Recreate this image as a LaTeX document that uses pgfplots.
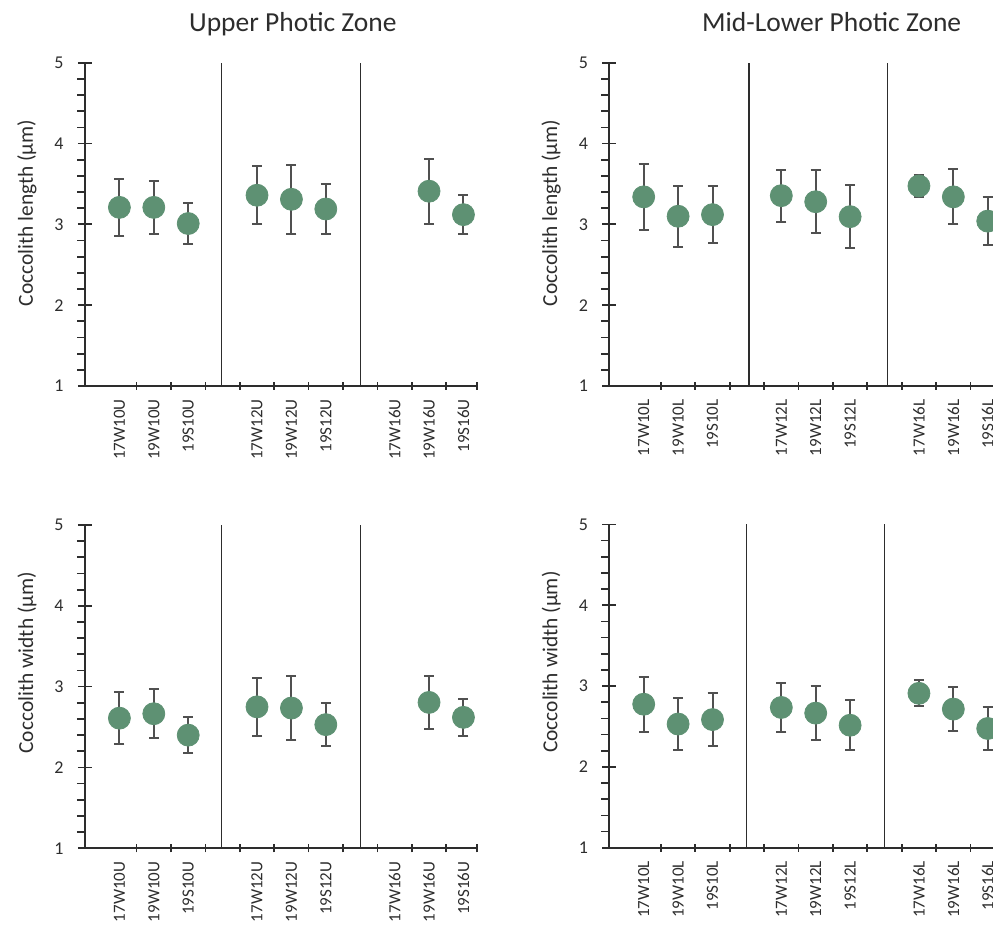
\documentclass[border=0pt]{standalone}
\usepackage{fontspec}
\setmainfont{Carlito}
\usepackage{pgfplots}
\usepackage{pgfplotstable}
\pgfplotsset{compat=1.18}
\definecolor{mk}{RGB}{94,145,115}
\definecolor{eb}{RGB}{80,80,80}
\definecolor{ax}{RGB}{45,45,45}

\pgfplotstableread{
x y e
1 3.21 0.355
2 3.21 0.33
3 3.01 0.25
5 3.36 0.36
6 3.31 0.425
7 3.19 0.31
10 3.41 0.40
11 3.12 0.237
}\UL
\pgfplotstableread{
x y e
1 2.61 0.32
2 2.665 0.305
3 2.40 0.225
5 2.75 0.357
6 2.735 0.394
7 2.53 0.266
10 2.805 0.328
11 2.62 0.225
}\UW
\pgfplotstableread{
x y e
1 3.34 0.41
2 3.10 0.377
3 3.12 0.35
5 3.355 0.32
6 3.28 0.39
7 3.095 0.39
9 3.475 0.136
10 3.34 0.34
11 3.04 0.30
}\LL
\pgfplotstableread{
x y e
1 2.775 0.34
2 2.53 0.32
3 2.585 0.33
5 2.735 0.305
6 2.665 0.332
7 2.515 0.31
9 2.91 0.16
10 2.715 0.27
11 2.475 0.27
}\LW

\pgfplotsset{
  panel/.style={
    scale only axis, width=196.1pt, height=161.65pt,
    xmin=0, xmax=11.4, ymin=1, ymax=5,
    axis lines*=left,
    axis line style={ax, line width=0.9pt},
    tick style={ax, line width=0.85pt},
    tick align=center,
    major tick length=7pt,
    minor tick length=4pt,
    every minor y tick/.append style={xshift=-2pt},
    every major x tick/.append style={draw=none},
    ytick={1,2,3,4,5},
    minor y tick num=4,
    xtick={1,2,3,5,6,7,9,10,11},
    minor xtick={1.5,2.5,3.5,4.5,5.5,6.5,7.5,8.5,9.5,10.5,11.4},
    /pgf/number format/assume math mode=true,
    yticklabel style={font=\fontsize{9}{10}\selectfont, text=ax, anchor=east, inner sep=0pt, xshift=-7pt},
    xticklabel style={font=\fontsize{8.5}{10}\selectfont, text=ax, yshift=-3pt, rotate=90, anchor=east, inner sep=0pt},
    ylabel style={font=\fontsize{10.7}{12}\selectfont, text=ax, anchor=center},
    title style={font=\fontsize{13.75}{16}\selectfont, text=ax, anchor=base},
    clip=false,
  },
  pts/.style={only marks, mark=*, mark size=5.5pt, mark options={fill=mk, draw=mk},
    error bars/.cd, y dir=both, y explicit,
    error bar style={eb, line width=1pt},
    error mark options={rotate=90, mark size=2.5pt, eb, line width=1pt}},
  sep/.style={ax, line width=0.6pt, mark=none},
}

\begin{document}
\begin{tikzpicture}
\useasboundingbox (0,0) rectangle (496.5pt,463pt);
\clip (0,0) rectangle (496.5pt,463pt);

% top-left
\begin{axis}[panel, at={(42.5pt,270pt)}, anchor=south west,
  xticklabels={17W10U,19W10U,19S10U,17W12U,19W12U,19S12U,17W16U,19W16U,19S16U},
  ylabel={Coccolith length (µm)},
  ylabel style={at={(axis description cs:-0.148,0.535)}},
  title={Upper Photic Zone},
  title style={at={(axis description cs:0.53,1.059)}}]
\addplot[sep] coordinates {(3.96,1) (3.96,5)};
\addplot[sep] coordinates {(8,1) (8,5)};
\addplot[pts] table[x=x, y=y, y error=e] {\UL};
\end{axis}

% top-right
\begin{axis}[panel, at={(304.65pt,270pt)}, anchor=south west,
  xticklabels={17W10L,19W10L,19S10L,17W12L,19W12L,19S12L,17W16L,19W16L,19S16L},
  ylabel={Coccolith length (µm)},
  ylabel style={at={(axis description cs:-0.148,0.535)}},
  title={Mid-Lower Photic Zone},
  title style={at={(axis description cs:0.567,1.059)}}]
\addplot[sep] coordinates {(4.06,1) (4.06,5)};
\addplot[sep] coordinates {(8.08,1) (8.08,5)};
\addplot[pts] table[x=x, y=y, y error=e] {\LL};
\end{axis}

% bottom-left
\begin{axis}[panel, at={(42.5pt,38.85pt)}, anchor=south west,
  xticklabels={17W10U,19W10U,19S10U,17W12U,19W12U,19S12U,17W16U,19W16U,19S16U},
  ylabel={Coccolith width (µm)},
  ylabel style={at={(axis description cs:-0.148,0.574)}}]
\addplot[sep] coordinates {(3.96,1) (3.96,5)};
\addplot[sep] coordinates {(8,1) (8,5)};
\addplot[pts] table[x=x, y=y, y error=e] {\UW};
\end{axis}

% bottom-right
\begin{axis}[panel, at={(304.65pt,39.15pt)}, anchor=south west,
  xticklabels={17W10L,19W10L,19S10L,17W12L,19W12L,19S12L,17W16L,19W16L,19S16L},
  ylabel={Coccolith width (µm)},
  ylabel style={at={(axis description cs:-0.148,0.574)}}]
\addplot[sep] coordinates {(3.98,1) (3.98,5)};
\addplot[sep] coordinates {(8,1) (8,5)};
\addplot[pts] table[x=x, y=y, y error=e] {\LW};
\end{axis}
\end{tikzpicture}
\end{document}
